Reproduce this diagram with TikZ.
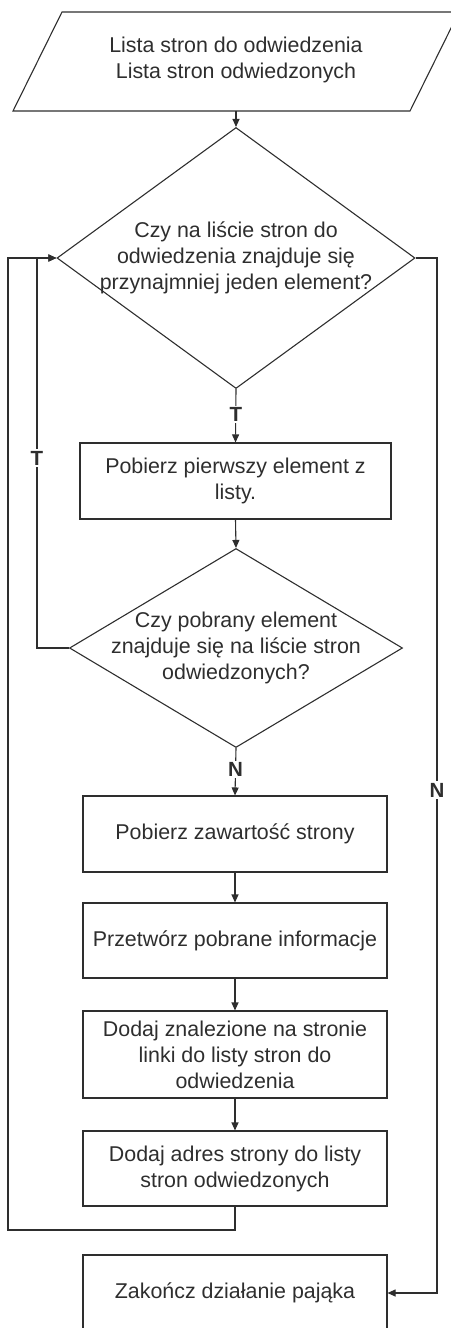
\documentclass[tikz,border=0pt]{standalone}
\usepackage{fontspec}
\setmainfont{Liberation Sans}
\usetikzlibrary{shapes.geometric,arrows.meta}
\definecolor{ink}{HTML}{2E2E2E}
\begin{document}
\begin{tikzpicture}[x=1pt,y=-1pt,line width=1.1pt,
  txt/.style={text=ink,align=center,font=\fontsize{21.4}{26}\selectfont},
  procbox/.style={txt,draw=ink,rectangle,inner sep=0pt,minimum width=304pt},
  decision/.style={draw=ink,diamond,inner sep=0pt},
  flow/.style={draw=ink,-{Triangle[length=8pt,width=7pt]}},
  tag/.style={fill=white,inner sep=1.5pt,text=ink,font=\fontsize{20.5}{24}\selectfont\bfseries}]
\useasboundingbox (0,0) rectangle (450,1328);

% input data (parallelogram)
\draw[ink] (62,12) -- (459,12) -- (410,111) -- (13,111) -- cycle;
\node[txt] (in) at (236,60) {Lista stron do odwiedzenia\\Lista stron odwiedzonych};
\coordinate (inb) at (236,111);

% decisions: outline and text
\node[decision,minimum width=358pt,minimum height=261pt] (d1) at (236,258) {};
\node[txt] (d1t) at (236,258)
  {Czy na liście stron do\\odwiedzenia znajduje się\\przynajmniej jeden element?};
\node[decision,minimum width=333pt,minimum height=199pt] (d2) at (236,648) {};
\node[txt] (d2t) at (236,648)
  {Czy pobrany element\\znajduje się na liście stron\\odwiedzonych?};

% process steps
\node[procbox,minimum width=311pt,minimum height=76pt] (r1) at (235.5,481)
  {Pobierz pierwszy element z\\listy.};
\node[procbox,minimum height=76pt] (r2) at (235,834) {Pobierz zawartość strony};
\node[procbox,minimum height=75pt] (r3) at (235,940.5) {Przetwórz pobrane informacje};
\node[procbox,minimum height=87pt] (r4) at (235,1054.5)
  {Dodaj znalezione na stronie\\linki do listy stron do\\odwiedzenia};
\node[procbox,minimum height=75pt] (r5) at (235,1168.5)
  {Dodaj adres strony do listy\\stron odwiedzonych};
\node[procbox,minimum height=76pt] (r6) at (235,1293) {Zakończ działanie pająka};

% main flow
\draw[flow] (inb) -- (d1.north);
\draw[flow] (d1.south) -- node[tag,pos=0.48] {T} (r1.north);
\draw[flow] (r1.south) -- (d2.north);
\draw[flow] (d2.south) -- node[tag,pos=0.46] {N} (r2.north);
\draw[flow] (r2.south) -- (r3.north);
\draw[flow] (r3.south) -- (r4.north);
\draw[flow] (r4.south) -- (r5.north);

% loops back to the first decision
\coordinate (lt) at (37,258);
\draw[flow] (d2.west) -| (lt) -- (d1.west);
\node[tag] (tT) at (37,458) {T};
\coordinate (lo) at (8,1230);
\draw[flow] (r5.south) |- (lo) |- (d1.west);

% exit branch
\coordinate (ro) at (437,800);
\draw[flow] (d1.east) -| (ro) |- (r6.east);
\node[tag] (tN) at (437,790) {N};
\end{tikzpicture}
\end{document}
